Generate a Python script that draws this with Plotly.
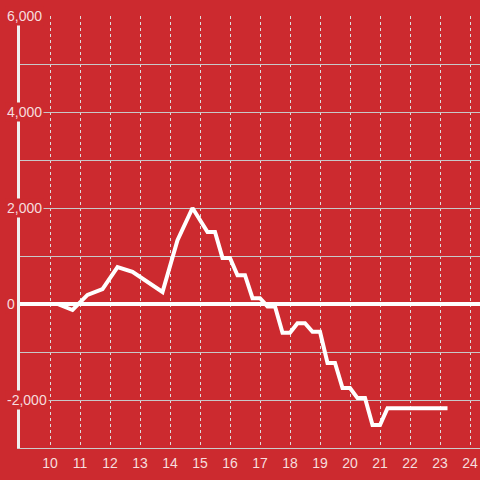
import plotly.graph_objects as go

# data
x_vals = [9.0, 10.25, 10.75, 11.25, 11.75, 12.25, 12.75, 13.75, 14.25, 14.75,
          15.25, 15.5, 15.75, 16.0, 16.25, 16.5, 16.75, 17.0, 17.25, 17.5,
          17.75, 18.0, 18.25, 18.5, 18.75, 19.0, 19.25, 19.5, 19.75, 20.0,
          20.25, 20.5, 20.75, 21.0, 21.25, 23.25]
y_vals = [0, 0, -125, 190, 310, 770, 670, 250, 1330, 2000,
          1500, 1500, 960, 960, 600, 600, 120, 120, -50, -50,
          -600, -600, -400, -400, -580, -580, -1230, -1230, -1750, -1750,
          -1960, -1960, -2520, -2520, -2170, -2170]
x_ticks = list(range(10, 25))
y_label_ticks = [-2000, 0, 2000, 4000, 6000]
y_label_text = ["-2,000", "0", "2,000", "4,000", "6,000"]

BG = "#cc2a2f"
LABEL = "rgba(255,255,255,0.85)"
FONT = "Liberation Sans, Arial, sans-serif"

fig = go.Figure()
fig.add_trace(go.Scatter(x=x_vals, y=y_vals, mode="lines",
                         line=dict(color="white", width=4),
                         hoverinfo="skip", showlegend=False))

annotations = []
for v, t in zip(y_label_ticks, y_label_text):
    annotations.append(dict(x=0, y=v, xref="paper", yref="y", text=t,
                            showarrow=False, xanchor="left", yanchor="middle",
                            xshift=-15, bgcolor=BG, borderpad=1,
                            font=dict(family=FONT, size=14, color=LABEL)))

fig.update_layout(
    width=480, height=480,
    margin=dict(l=20, r=0, t=16, b=32),
    paper_bgcolor=BG, plot_bgcolor=BG,
    annotations=annotations,
    xaxis=dict(range=[9.0, 24.333], tickvals=x_ticks,
               showgrid=True, gridcolor="#dddddd", gridwidth=1, griddash="dot",
               showline=True, linecolor="#cccccc", linewidth=1,
               zeroline=False, ticks="outside", ticklen=2, tickcolor="rgba(0,0,0,0)",
               tickfont=dict(family=FONT, size=14, color=LABEL)),
    yaxis=dict(range=[-3000, 6000], dtick=1000, showticklabels=False,
               showgrid=True, gridcolor="#c8c8c8", gridwidth=1,
               zeroline=True, zerolinecolor="white", zerolinewidth=4,
               showline=True, linecolor="#f0f0f0", linewidth=3),
)

fig.write_html("out.html", config={"displayModeBar": False},
               post_script="document.body.style.margin='0';document.body.style.overflow='hidden';")
